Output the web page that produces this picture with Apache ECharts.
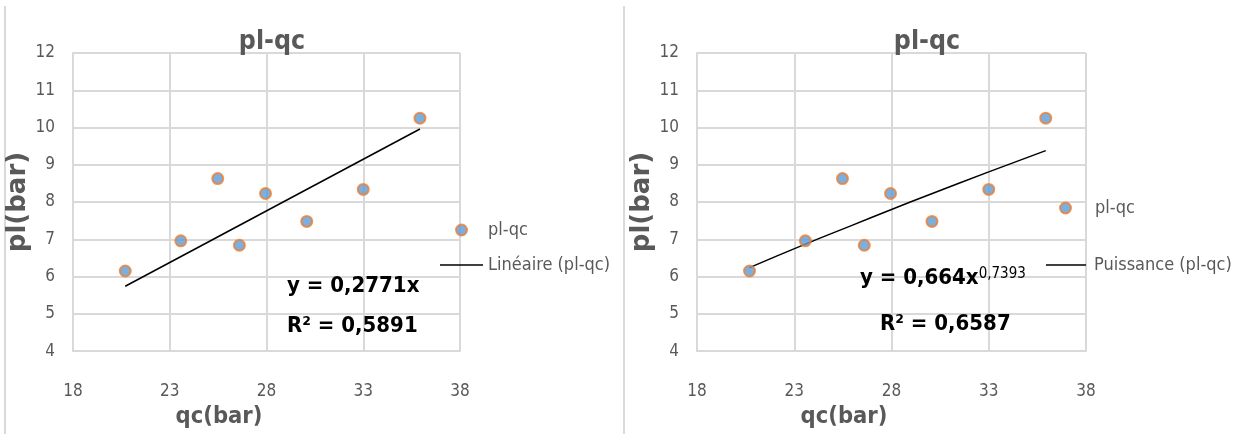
<!DOCTYPE html>
<html>
<head>
<meta charset="utf-8">
<script src="https://cdn.jsdelivr.net/npm/echarts@6/dist/echarts.min.js"></script>
<style>
html,body{margin:0;padding:0;background:#fff;}
#chart{width:1245px;height:434px;}
</style>
</head>
<body>
<div id="chart"></div>
<script>
// ---- data ----
const qc = [20.7, 23.57, 25.48, 26.6, 27.95, 30.08, 33.0, 35.93];
const pl = [6.15, 6.96, 8.63, 6.84, 8.23, 7.48, 8.34, 10.25];
// linear trendline (y = 0,2771x) read at its ends
const linTrendX = [20.7, 35.93];
const linTrendY = [5.74, 9.96];
// power trendline (y = 0,664x^0,7393) read along its course
const powTrendX = [20.7, 23.57, 26, 28, 30, 33, 35.93];
const powTrendY = [6.24, 6.87, 7.38, 7.80, 8.21, 8.81, 9.38];
const xTicks = [18, 23, 28, 33, 38];
const yTicks = [4, 5, 6, 7, 8, 9, 10, 11, 12];
const chartTitle = 'pl-qc';
const seriesName = 'pl-qc';
const linName = 'Linéaire (pl-qc)';
const powName = 'Puissance (pl-qc)';
const xName = 'qc(bar)';
const yName = 'pl(bar)';

const NARROW = "'DejaVu Sans Condensed', 'Liberation Sans', sans-serif";
const GRAY = '#595959';
const GRID = '#d9d9d9';

const pts = qc.map((x, i) => [x, pl[i]]);
const lin = linTrendX.map((x, i) => [x, linTrendY[i]]);
const pow = powTrendX.map((x, i) => [x, powTrendY[i]]);

function xAxis(gi) {
  return {
    type: 'value', gridIndex: gi, min: xTicks[0], max: xTicks[xTicks.length - 1], interval: 5,
    name: xName, nameLocation: 'middle', nameGap: 40,
    nameTextStyle: { fontFamily: NARROW, fontWeight: 'bold', fontSize: 23.5, color: GRAY, padding: [0, 95, 0, 0] },
    axisLine: { show: true, lineStyle: { color: GRID, width: 2 } },
    axisTick: { show: false },
    axisLabel: { margin: 32, fontFamily: NARROW, fontSize: 17, color: GRAY },
    splitLine: { show: true, lineStyle: { color: GRID, width: 2 } }
  };
}
function yAxis(gi) {
  return {
    type: 'value', gridIndex: gi, min: yTicks[0], max: yTicks[yTicks.length - 1], interval: 1,
    name: yName, nameLocation: 'middle', nameGap: 24,
    nameTextStyle: { fontFamily: "'DejaVu Sans', sans-serif", fontWeight: 'bold', fontSize: 26, color: GRAY },
    axisLine: { show: true, lineStyle: { color: GRID, width: 2 } },
    axisTick: { show: false },
    axisLabel: { margin: 18, fontFamily: NARROW, fontSize: 17, color: GRAY },
    splitLine: { show: true, lineStyle: { color: GRID, width: 2 } }
  };
}
const markerStyle = { color: '#5B9BD5', borderColor: '#ED7D31', borderWidth: 2 };
const legendText = { fontFamily: NARROW, fontSize: 18, color: GRAY };
const eqFont = { fontFamily: NARROW, fontWeight: 'bold', fontSize: 22, fill: '#000' };

const option = {
  animation: false,
  backgroundColor: '#fff',
  title: [
    { text: chartTitle, left: 267, top: 24, textAlign: 'center',
      textStyle: { fontFamily: NARROW, fontWeight: 'bold', fontSize: 26.5, color: GRAY } },
    { text: chartTitle, left: 922, top: 24, textAlign: 'center',
      textStyle: { fontFamily: NARROW, fontWeight: 'bold', fontSize: 26.5, color: GRAY } }
  ],
  grid: [
    { left: 73, top: 53, width: 387, height: 301 },
    { left: 697, top: 53, width: 389, height: 301 }
  ],
  xAxis: [xAxis(0), xAxis(1)],
  yAxis: [yAxis(0), yAxis(1)],
  legend: [
    { data: [seriesName], left: 455, top: 221, padding: 0, itemWidth: 11, itemHeight: 11,
      textStyle: Object.assign({ padding: [0, 0, 0, 16] }, legendText) },
    { data: [{ name: linName, icon: 'rect' }], left: 440, top: 256, padding: 0, itemWidth: 43, itemHeight: 1.5,
      textStyle: legendText },
    { data: [seriesName], left: 1059, top: 199, padding: 0, itemWidth: 11, itemHeight: 11,
      textStyle: Object.assign({ padding: [0, 0, 0, 19] }, legendText) },
    { data: [{ name: powName, icon: 'rect' }], left: 1046, top: 256, padding: 0, itemWidth: 40, itemHeight: 1.5,
      textStyle: Object.assign({ padding: [0, 0, 0, 3] }, legendText) }
  ],
  series: [
    { name: linName, type: 'line', xAxisIndex: 0, yAxisIndex: 0, data: lin,
      symbol: 'none', lineStyle: { color: '#000', width: 1.5 }, itemStyle: { color: '#000' }, z: 2 },
    { name: seriesName, type: 'scatter', xAxisIndex: 0, yAxisIndex: 0, data: pts,
      symbolSize: 11, itemStyle: markerStyle, z: 3 },
    { name: powName, type: 'line', xAxisIndex: 1, yAxisIndex: 1, data: pow, smooth: true,
      symbol: 'none', lineStyle: { color: '#000', width: 1.5 }, itemStyle: { color: '#000' }, z: 2 },
    { name: seriesName, type: 'scatter', xAxisIndex: 1, yAxisIndex: 1, data: pts,
      symbolSize: 11, itemStyle: markerStyle, z: 3 }
  ],
  graphic: [
    { type: 'line', shape: { x1: 5, y1: 6, x2: 5, y2: 434 }, style: { stroke: GRID, lineWidth: 2 } },
    { type: 'line', shape: { x1: 624, y1: 6, x2: 624, y2: 434 }, style: { stroke: GRID, lineWidth: 2 } },
    { type: 'text', left: 287, top: 275, z: 10, style: Object.assign({ text: 'y = 0,2771x' }, eqFont) },
    { type: 'text', left: 287, top: 315, z: 10, style: Object.assign({ text: 'R² = 0,5891' }, eqFont) },
    { type: 'text', left: 860, top: 267, z: 10,
      style: { text: '{a|y = 0,664x}{s|0,7393}', fill: '#000',
        rich: { a: eqFont,
                s: { fontFamily: NARROW, fontSize: 15, fill: '#000', verticalAlign: 'top' } } } },
    { type: 'text', left: 880, top: 313, z: 10, style: Object.assign({ text: 'R² = 0,6587' }, eqFont) }
  ]
};

const chart = echarts.init(document.getElementById('chart'), null, { renderer: 'canvas' });
chart.setOption(option);
</script>
</body>
</html>
